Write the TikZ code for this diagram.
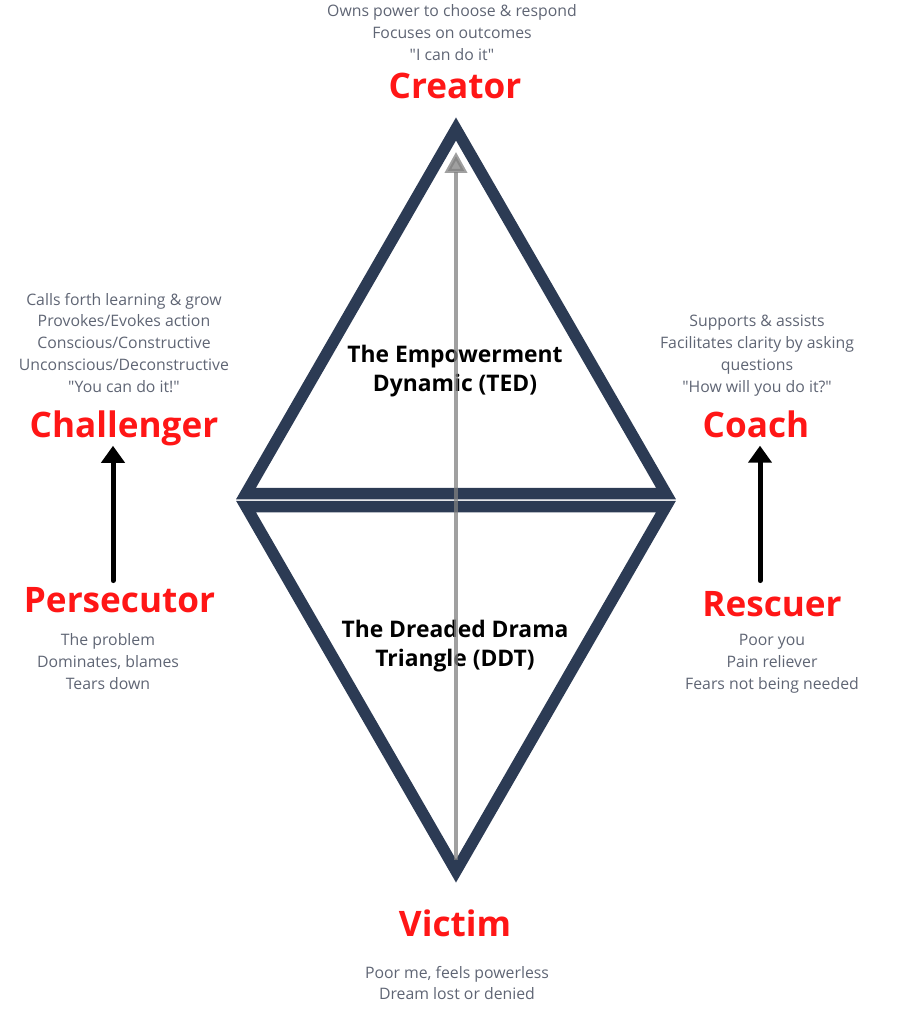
\documentclass[tikz,border=0pt]{standalone}
\usepackage{fontspec}
\setmainfont{Open Sans}[Ligatures=TeXOff]
\usepackage{tikz}
\usetikzlibrary{
  positioning,
  arrows.meta
}
\newcommand{\dq}{\symbol{34}}
\definecolor{rolered}{RGB}{255,22,22}
\definecolor{descgray}{RGB}{95,101,116}
\definecolor{triborder}{RGB}{44,59,84}
\definecolor{axisgray}{RGB}{128,128,128}
\tikzset{
  rolelabel/.style={
    text=rolered, anchor=base, inner sep=0pt,
    font=\fontsize{20}{24}\selectfont\bfseries
  },
  desctext/.style={
    text=descgray, align=center, inner sep=0pt,
    font=\fontsize{9}{12.5}\selectfont
  },
  dynlabel/.style={
    align=center, inner sep=0pt,
    font=\fontsize{13}{16.8}\selectfont\bfseries
  },
  triside/.style={
    draw=triborder, line width=0.23cm, line join=miter
  },
  shiftarrow/.style={
    -{Triangle[width=0.46cm,length=0.34cm]}, line width=0.1cm, line cap=round
  },
  axisarrow/.style={
    -{Triangle[width=0.44cm,length=0.42cm]}, draw=axisgray, line width=0.08cm, opacity=0.75
  }
}

\begin{document}
\begin{tikzpicture}[x=0.02cm, y=-0.02cm]
  \useasboundingbox (0,0) rectangle (904,1018);

  % triangle corners
  \coordinate (tedtop) at (456,129);
  \coordinate (tedleft) at (246,493.5);
  \coordinate (tedright) at (666,493.5);
  \coordinate (ddtleft) at (246,506.5);
  \coordinate (ddtright) at (666,506.5);
  \coordinate (ddtbottom) at (456,871);

  \draw[triside] (tedtop) -- (tedleft) -- (tedright) -- cycle;
  \draw[triside] (ddtleft) -- (ddtright) -- (ddtbottom) -- cycle;

  \node[dynlabel] (ted) at (455,371) {The Empowerment\\Dynamic (TED)};
  \node[dynlabel] (ddt) at (455,646) {The Dreaded Drama\\Triangle (DDT)};

  \draw[axisarrow, shorten <=0.22cm, shorten >=0.46cm] (ddtbottom) -- (tedtop);

  % roles
  \node[rolelabel] (creator) at (455,98) {Creator};
  \node[rolelabel] (challenger) at (124,437) {Challenger};
  \node[rolelabel] (coach) at (756,437) {Coach};
  \node[rolelabel] (persecutor) at (119.5,612) {Persecutor};
  \node[rolelabel] (rescuer) at (772,616) {Rescuer};
  \node[rolelabel] (victim) at (455,936) {Victim};

  \node[desctext] (creatordesc) at (452,33) {Owns power to choose \& respond\\Focuses on outcomes\\\dq I can do it\dq};
  \node[desctext] (challengerdesc) at (124,343) {Calls forth learning \& grow\\Provokes/Evokes action\\Conscious/Constructive\\Unconscious/Deconstructive\\\dq You can do it!\dq};
  \node[desctext] (coachdesc) at (757,356) {Supports \& assists\\Facilitates clarity by asking\\questions\\\dq How will you do it?\dq};
  \node[desctext] (persecutordesc) at (108,662) {The problem\\Dominates, blames\\Tears down};
  \node[desctext] (rescuerdesc) at (772,664) {Poor you\\Pain reliever\\Fears not being needed};
  \node[desctext] (victimdesc) at (457,983) {Poor me, feels powerless\\Dream lost or denied};

  \draw[shiftarrow, shorten <=0.12cm] ([xshift=-0.13cm]persecutor.north) -- ([xshift=-0.13cm]persecutor.north |- challenger.south);
  \draw[shiftarrow, shorten <=0.2cm, shorten >=0.16cm] ([xshift=-0.24cm]rescuer.north) -- ([xshift=-0.24cm]rescuer.north |- coach.south);
\end{tikzpicture}
\end{document}
